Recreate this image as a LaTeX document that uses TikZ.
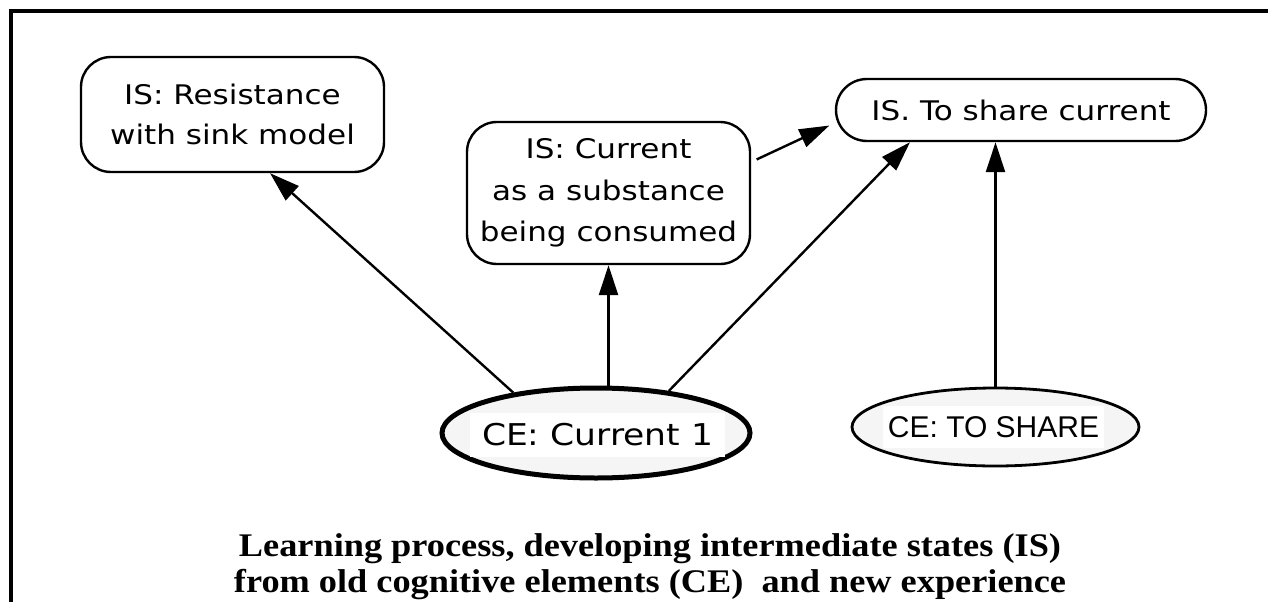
\documentclass[tikz,border=0pt]{standalone}
\usepackage{fontspec}
\setmainfont{Liberation Serif}
\newfontfamily\genf[FakeStretch=1.15]{DejaVu Sans}
\newfontfamily\helv{Liberation Sans}
\newfontfamily\capfont[FakeStretch=1.1]{Liberation Serif Bold}
\usetikzlibrary{arrows.meta,shapes.geometric}
\begin{document}
\begin{tikzpicture}[x=1pt,y=-1pt,
  isbox/.style={draw, line width=2.4pt, rounded corners=30pt, align=center,
    font=\genf\fontsize{27}{40}\selectfont, inner sep=0pt},
  ceell/.style={draw, ellipse, fill=black!4, inner sep=0pt},
  cetext/.style={fill=white, inner sep=0pt},
  arr/.style={line width=2.4pt, -{Triangle[length=30pt,width=19pt]}},
  frameline/.style={line width=4pt},
  caption/.style={align=center, font=\capfont\fontsize{33}{36}\selectfont, inner sep=0pt}
]
\useasboundingbox (0,0) rectangle (1268,602);
\fill[white] (0,0) rectangle (1268,602);
% frame
\draw[frameline] (1268,11) -- (11,11) -- (11,602);

% IS boxes
\node[isbox, minimum width=303pt, minimum height=115pt] (A) at (232.5,114.5)
  {IS: Resistance\\with sink model};
\node[isbox, minimum width=283pt, minimum height=142pt, font=\genf\fontsize{27}{41.5}\selectfont] (B) at (608.5,193)
  {IS: Current\\as a substance\\being consumed};
\node[isbox, minimum width=370pt, minimum height=62pt, rounded corners=31pt] (C) at (1021,110)
  {IS. To share current};

% CE ellipses
\node[ceell, line width=5pt, minimum width=308pt, minimum height=90pt] (D) at (596,433) {};
\node[cetext, font=\genf\fontsize{30}{36}\selectfont] (Dt) at (597.5,435)
  {\rule[-12pt]{0pt}{44pt}\makebox[255pt][c]{CE: Current 1}};
\node[ceell, line width=2.8pt, minimum width=287pt, minimum height=78pt] (E) at (995.5,427) {};
\node[cetext, font=\helv\fontsize{30}{36}\selectfont] (Et) at (993.5,427)
  {\rule[-11pt]{0pt}{42pt}\makebox[221pt][c]{CE: TO SHARE}};

% connectors
\draw[arr] (D.154) -- ([xshift=37.5pt]A.south);
\draw[arr] (B.south |- D.north) -- (B.south);
\draw[arr] (D.30) -- ([xshift=-111pt]C.south);
\draw[arr, shorten <=6pt, shorten >=6pt] ([yshift=31pt]B.east) -- ([yshift=-13pt]C.west);
\draw[arr] (E.north) -- (E.north |- C.south);

% caption
\node[caption, anchor=base] (cap) at (650,592)
  {Learning process, developing intermediate states (IS)\\from old cognitive elements (CE)\ \ and new experience};
\end{tikzpicture}
\end{document}
